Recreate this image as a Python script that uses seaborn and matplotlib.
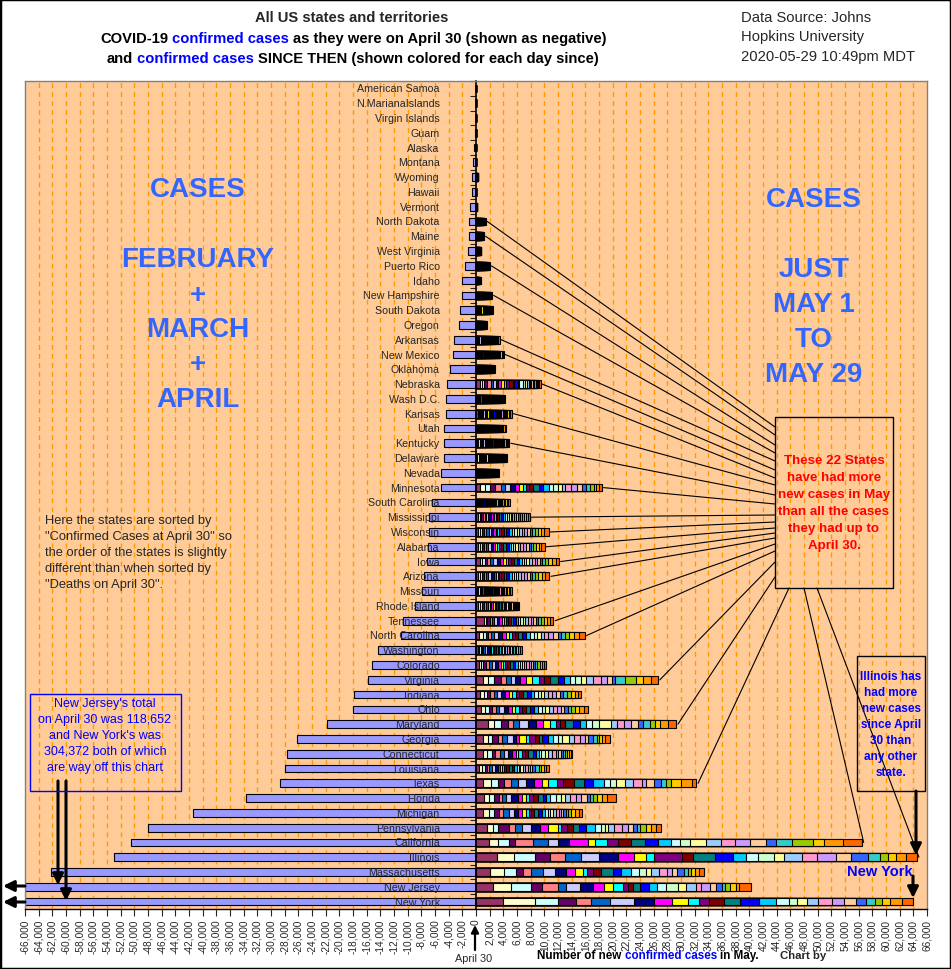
import numpy as np
import pandas as pd
import matplotlib
matplotlib.use("Agg")
import matplotlib.pyplot as plt
import seaborn as sns
from matplotlib.patches import Rectangle
from matplotlib.lines import Line2D

# ---- data -------------------------------------------------------------
states = ["American Samoa", "N.MarianaIslands", "Virgin Islands", "Guam", "Alaska",
          "Montana", "Wyoming", "Hawaii", "Vermont", "North Dakota", "Maine",
          "West Virginia", "Puerto Rico", "Idaho", "New Hampshire", "South Dakota",
          "Oregon", "Arkansas", "New Mexico", "Oklahoma", "Nebraska", "Wash D.C.",
          "Kansas", "Utah", "Kentucky", "Delaware", "Nevada", "Minnesota",
          "South Carolina", "Mississippi", "Wisconsin", "Alabama", "Iowa", "Arizona",
          "Missouri", "Rhode Island", "Tennessee", "North Carolina", "Washington",
          "Colorado", "Virginia", "Indiana", "Ohio", "Maryland", "Georgia",
          "Connecticut", "Louisiana", "Texas", "Florida", "Michigan", "Pennsylvania",
          "California", "Illinois", "Massachusetts", "New Jersey", "New York"]

# confirmed cases on April 30 (drawn as negative)
april30 = [0, 14, 66, 145, 355, 453, 559, 619, 866, 1067, 1095, 1125, 1575, 2015,
           2054, 2373, 2510, 3255, 3411, 3748, 4281, 4323, 4449, 4672, 4708, 4734,
           5053, 5136, 6489, 6815, 6854, 7068, 7145, 7648, 7835, 8962, 10735, 10923,
           14327, 15284, 15846, 17835, 18027, 21849, 26264, 27700, 28001, 28727,
           33690, 41379, 47971, 50442, 52918, 62205, 118652, 304372]

# new confirmed cases for each day May 1 .. May 29 (one row per state)
may_daily = [
    [0,0,0,0,0,0,0,0,0,0,0,0,0,0,0,0,0,0,0,0,0,0,0,0,0,0,0,0,0],
    [2,0,0,0,0,0,0,0,0,0,0,0,0,1,0,0,0,0,0,0,0,0,0,0,0,0,3,2,0],
    [0,0,0,0,0,0,0,0,0,0,0,0,0,0,0,0,0,0,0,0,0,0,0,0,0,0,0,3,0],
    [0,0,0,0,4,0,0,0,0,0,2,0,0,0,0,3,0,0,0,0,0,2,0,0,0,3,0,2,4],
    [4,3,3,1,0,2,1,4,4,2,0,0,2,1,4,1,3,2,4,2,3,4,3,3,2,1,1,2,2],
    [2,1,0,1,0,0,0,3,2,0,0,0,1,0,0,2,2,0,0,0,0,1,3,2,1,2,3,2,2],
    [7,4,7,12,5,6,12,10,9,11,9,15,10,13,12,16,10,5,7,14,13,12,7,8,11,15,12,16,14],
    [1,0,0,0,1,0,1,0,0,1,0,2,1,0,1,2,0,1,3,2,0,2,1,1,0,2,1,1,2],
    [4,1,3,2,5,2,3,5,3,4,2,1,3,4,8,6,4,1,6,3,3,5,2,4,3,7,5,4,3],
    [40,45,50,42,38,36,50,60,55,62,45,40,50,58,60,52,45,30,48,55,40,48,35,38,45,60,55,58,62],
    [30,35,40,22,30,25,35,40,50,33,28,35,40,45,50,35,30,40,45,33,50,60,45,35,40,55,42,48,50],
    [25,30,28,20,22,30,25,35,28,26,20,18,30,32,25,30,28,22,20,35,30,28,25,26,30,32,28,24,26],
    [60,50,45,70,80,65,75,90,40,50,120,85,70,60,55,40,50,110,95,80,60,45,30,40,70,85,90,95,100],
    [20,25,18,15,20,22,25,30,28,20,15,18,22,25,28,30,20,18,22,30,25,28,26,24,30,32,28,30,25],
    [80,90,70,60,75,85,95,100,90,70,60,80,85,95,100,85,70,65,80,90,80,85,70,65,75,90,85,80,75],
    [110,80,90,75,60,70,95,100,110,250,80,70,85,90,70,60,75,80,70,65,60,75,80,65,90,85,70,75,80],
    [45,50,55,60,40,48,52,60,58,55,42,50,55,60,62,58,45,40,55,60,58,62,48,52,55,60,65,62,58],
    [60,80,90,100,110,70,150,200,120,100,90,80,110,100,130,120,100,90,110,120,150,100,90,130,140,160,170,200,180],
    [150,100,120,130,140,120,180,170,150,130,100,110,140,150,160,170,130,120,130,140,160,150,140,110,120,160,170,150,140],
    [90,100,85,70,80,95,110,120,100,90,70,75,85,110,105,100,90,80,85,95,100,110,95,85,100,120,110,115,120],
    [650,300,280,320,650,330,380,360,320,450,370,450,540,230,450,230,580,320,270,230,180,220,220,220,180,140,180,180,220],
    [130,120,150,140,110,200,160,150,170,140,120,130,160,170,140,150,130,110,140,160,150,170,180,140,150,130,110,150,140],
    [250,150,200,180,160,130,220,200,180,170,150,160,200,190,180,170,150,140,160,180,200,190,160,150,170,190,200,210,250],
    [150,140,130,120,160,150,170,160,140,130,120,140,150,160,170,180,150,140,130,150,160,170,160,150,140,130,150,180,190],
    [200,150,300,140,130,160,180,200,170,150,140,130,160,180,200,150,140,130,160,180,170,150,140,130,160,250,180,170,140],
    [180,200,150,130,170,160,150,180,200,170,140,150,160,170,180,200,150,140,130,160,150,140,130,120,150,140,150,130,140],
    [100,120,110,90,100,130,120,110,100,130,110,100,120,130,140,120,110,100,90,120,130,140,110,100,120,130,140,110,120],
    [630,680,780,680,880,630,680,730,540,590,490,490,590,780,680,780,680,630,630,490,830,830,730,630,630,590,240,390,490],
    [150,140,160,130,120,200,180,170,160,150,140,130,160,180,170,150,140,200,160,180,170,190,160,180,200,190,210,230,250],
    [300,250,200,220,280,260,300,350,260,240,200,220,280,300,320,280,240,260,300,280,250,260,300,320,280,260,300,290,300],
    [350,300,250,280,300,350,400,330,300,280,250,310,350,380,400,420,380,350,330,360,390,420,400,380,350,400,450,550,600],
    [300,250,280,300,330,350,360,320,300,250,280,320,350,380,400,350,300,330,360,380,400,420,390,350,330,400,380,420,450],
    [550,400,350,380,420,450,480,520,450,400,350,380,420,400,380,350,330,380,400,420,380,350,360,400,420,450,600,520,450],
    [250,300,280,300,350,320,400,380,300,280,250,300,350,380,400,380,350,300,320,400,420,450,400,380,420,450,500,520,600],
    [150,120,300,160,180,200,170,150,140,130,160,180,200,170,160,150,140,170,190,200,210,180,160,150,200,220,240,230,250],
    [300,320,280,250,270,300,280,260,240,220,200,230,250,240,220,200,180,190,210,200,180,170,160,150,180,170,160,150,140],
    [1100,300,250,350,300,280,450,400,320,300,280,350,400,380,350,300,320,380,400,420,400,380,350,330,400,420,450,480,500],
    [400,600,450,350,400,500,550,600,500,450,400,450,500,550,600,650,550,500,450,550,600,700,650,550,500,600,700,750,900],
    [250,220,200,180,230,250,270,240,220,200,190,210,240,260,250,230,210,200,220,240,260,250,230,220,200,210,250,260,280],
    [400,350,300,380,420,450,500,420,380,350,300,320,380,400,420,350,300,280,320,350,380,350,300,280,300,320,340,300,320],
    [980,830,880,980,730,730,590,730,880,830,1070,780,830,1120,880,980,730,830,780,930,1220,880,680,440,1510,1610,980,1220,1020],
    [600,550,500,450,480,520,580,600,550,500,480,520,550,600,580,500,450,480,520,560,580,600,550,500,520,560,600,500,450],
    [700,600,550,500,520,560,600,620,580,550,500,520,560,600,580,550,500,520,560,600,580,550,520,500,540,560,600,620,650],
    [1710,980,980,980,730,980,1220,1220,980,980,880,680,730,1120,1120,830,880,980,1800,880,980,1070,980,730,980,730,730,1220,1220],
    [980,730,630,830,590,780,830,490,390,1070,390,880,590,490,830,730,730,630,980,830,880,630,540,630,630,340,340,540,680],
    [980,590,780,490,630,590,680,490,590,390,490,440,540,680,490,390,290,630,440,540,590,340,390,290,290,340,240,290,150],
    [500,400,350,300,380,420,450,350,300,380,250,300,400,420,380,350,300,280,320,400,380,350,300,420,480,400,350,380,350],
    [980,1220,980,880,1070,980,1220,1120,1220,880,1270,880,1710,1370,1320,1610,830,980,1220,1220,1370,590,1120,980,730,830,1370,1710,590],
    [1200,650,850,600,550,550,750,1000,600,550,500,550,750,650,500,650,800,800,550,700,900,750,800,550,400,600,700,650,1400],
    [1000,900,800,600,700,800,700,650,600,500,450,400,450,500,600,450,400,300,500,450,400,350,300,300,350,450,550,600,500],
    [1610,930,680,1610,930,980,1270,1320,1220,1420,490,880,830,930,1020,1270,930,490,540,830,1120,980,680,630,390,880,680,730,830],
    [1900,1320,1560,930,2590,2240,1460,1610,2730,1020,1760,1660,1900,2050,1950,1850,1320,1460,2340,2200,2050,2200,2340,1460,2340,3070,1610,2780,2780],
    [3030,2540,3030,2240,2200,2340,2590,2830,2340,1760,1170,4100,1610,3220,2540,2000,1760,2340,1460,2540,2200,2780,2290,2490,1760,1170,1070,1560,1610],
    [2000,2100,1710,1020,1170,1810,1710,1660,1320,1170,540,930,1170,1710,1220,1460,1120,1070,780,1120,1170,680,730,1120,540,490,490,630,730],
    [2440,2680,2930,1610,2340,1170,2100,1850,1560,1370,1420,780,730,1020,1370,1120,1320,1760,1170,1460,730,1270,930,880,490,680,830,440,1810],
    [3900,4680,3370,2640,2240,2780,3510,2930,2640,2390,1560,1460,2200,2340,2780,2540,1850,1170,1510,1610,2000,1810,1710,1420,1370,1070,1120,1760,1610],
]

days = [f"May {d}" for d in range(1, 30)]
day_colors = ["#993366", "#FFFFCC", "#CCFFFF", "#660066", "#FF8080", "#0066CC",
              "#CCCCFF", "#000080", "#FF00FF", "#FFFF00", "#00FFFF", "#800080",
              "#800000", "#008080", "#0000FF", "#00CCFF", "#CCFFFF", "#CCFFCC",
              "#FFFF99", "#99CCFF", "#FF99CC", "#CC99FF", "#FFCC99", "#3366FF",
              "#33CCCC", "#99CC00", "#FFCC00", "#FF9900", "#FF6600"]

# states whose May total beats the April 30 total, and where their line meets the note box (pixels)
box_states = ["North Dakota", "Maine", "Puerto Rico", "New Hampshire", "Arkansas",
              "New Mexico", "Nebraska", "Kansas", "Kentucky", "Minnesota",
              "Mississippi", "Wisconsin", "Alabama", "Iowa", "Arizona", "Tennessee",
              "North Carolina", "Virginia", "Maryland", "Texas", "California", "Illinois"]
box_hits = [(775, 428), (775, 436), (775, 446), (775, 454), (775, 462), (775, 471),
            (775, 479), (775, 486), (775, 496), (775, 505), (775, 516), (775, 523),
            (775, 529), (775, 534), (775, 539), (775, 545), (775, 552), (775, 563),
            (775, 578), (789, 589), (804, 589), (817, 589)]

bad = [s for s, r in zip(states, may_daily) if len(r) != 29]
assert not bad, bad

df = pd.DataFrame(may_daily, index=states, columns=days)
cum = df.cumsum(axis=1)
neg = -np.array(april30)

# ---- figure -----------------------------------------------------------
sns.set_style("white")
plt.rcParams["font.family"] = ["Liberation Sans", "DejaVu Sans"]

W, H = 951, 970
fig = plt.figure(figsize=(W / 100, H / 100), dpi=100)
fig.patch.set_facecolor("white")


def P(x, y):
    return (x / W, 1 - y / H)


ax = fig.add_axes([25 / W, 1 - 910 / H, 902 / W, 828 / H])
ax.set_facecolor("#FFCC99")

for gx in range(-64000, 66000, 2000):
    if gx != 0:
        ax.axvline(gx, color="#FF9900", lw=1.0, ls=(0, (3.5, 3)), zorder=0.5)

bar_kw = dict(orient="h", saturation=1, edgecolor="black", linewidth=0.8,
              width=0.52, errorbar=None, ax=ax)
sns.barplot(x=neg, y=states, color="#9999FF", **bar_kw)
for k in range(len(days) - 1, -1, -1):
    sns.barplot(x=cum[days[k]].values, y=states, color=day_colors[k], **bar_kw)

ax.set_xlim(-66000, 66000)
ax.set_ylim(len(states) - 0.5, -0.5)
ax.set_xlabel("")
ax.set_ylabel("")

ticks = np.arange(-66000, 66001, 2000)
ax.set_xticks(ticks)
ax.set_xticklabels([f"{t:,}" for t in ticks], rotation=90, fontsize=7.3)
ax.tick_params(axis="x", direction="out", length=5, width=0.8, pad=2, bottom=True)

ax.set_yticks(range(len(states)))
ax.tick_params(axis="y", which="major", length=0, labelleft=False)
ax.set_yticks(np.arange(-0.5, len(states), 1), minor=True)
ax.tick_params(axis="y", which="minor", length=4, width=0.8, direction="out", left=True)

ax.spines["left"].set_position(("data", 0))
ax.spines["left"].set_color("black")
ax.spines["left"].set_linewidth(1.2)
ax.spines["bottom"].set_color("black")
ax.spines["bottom"].set_linewidth(1.0)
for side in ["top", "right"]:
    ax.spines[side].set_color("#808080")
    ax.spines[side].set_linewidth(1.0)
ax.add_line(Line2D([0, 0], [0, 1], transform=ax.transAxes, color="#808080",
                   lw=1.0, clip_on=False))

for i, s in enumerate(states):
    ax.text(-5300, i, s, ha="right", va="center", fontsize=7.7, zorder=5)

# lines from each state's bar end to the note box
totals = cum[days[-1]]
for s, (hx, hy) in zip(box_states, box_hits):
    i = states.index(s)
    ax.annotate("", xy=(totals[s] + 250, i), xycoords="data",
                xytext=(hx, H - hy), textcoords="figure pixels",
                arrowprops=dict(arrowstyle="-", lw=0.8, color="black",
                                shrinkA=0, shrinkB=0), zorder=4)

# ---- boxes and arrows -------------------------------------------------
def box(x0, y0, x1, y1, color):
    r = Rectangle(P(x0, y1), (x1 - x0) / W, (y1 - y0) / H, transform=fig.transFigure,
                  fill=False, edgecolor=color, lw=1.0)
    fig.add_artist(r)


def arrow(x0, y0, x1, y1, lw=2.2, scale=16):
    ax.annotate("", xy=P(x1, y1), xycoords="figure fraction",
                xytext=P(x0, y0), textcoords="figure fraction",
                arrowprops=dict(arrowstyle="-|>", lw=lw, color="black",
                                mutation_scale=scale, shrinkA=0, shrinkB=0))


box(775, 418, 893, 589, "black")
box(857, 657, 925, 792, "black")
box(30, 695, 181, 792, "#0000FF")

arrow(58, 782, 58, 886)
arrow(66, 782, 66, 902)
arrow(25, 887, 3, 887)
arrow(25, 903, 3, 903)
arrow(916, 792, 916, 856)
arrow(913, 877, 913, 899)
arrow(475, 951, 475, 926, lw=1.6, scale=11)

# ---- text -------------------------------------------------------------
def rich(x, y, pieces, size, weight="bold"):
    t = fig.text(*P(x, y), pieces[0][0], color=pieces[0][1], fontsize=size,
                 fontweight=weight, ha="left", va="center")
    for s, c in pieces[1:]:
        t = ax.annotate(s, xy=(1, 0.5), xycoords=t, xytext=(0.28 * size, 0),
                        textcoords="offset points", color=c, fontsize=size,
                        fontweight=weight, ha="left", va="center")


BLUE = "#0000FF"
fig.text(*P(352, 18), "All US states and territories", ha="center", va="center",
         fontsize=10.6, fontweight="bold")
rich(100, 39, [("COVID-19", "black"), ("confirmed cases", BLUE),
               ("as they were on April 30 (shown as negative)", "black")], 10.6)
rich(107, 59, [("and", "black"), ("confirmed cases", BLUE),
               ("SINCE THEN (shown colored for each day since)", "black")], 10.6)

for j, line in enumerate(["Data Source: Johns", "Hopkins University",
                          "2020-05-29 10:49pm MDT"]):
    fig.text(*P(741, 18 + 19.5 * j), line, ha="left", va="center", fontsize=10.6)

BIG = "#3366FF"
for s, y in [("CASES", 190), ("FEBRUARY", 260), ("+", 296), ("MARCH", 330),
             ("+", 365), ("APRIL", 400)]:
    fig.text(*P(198, y), s, ha="center", va="center", fontsize=20,
             fontweight="bold", color=BIG)
for s, y in [("CASES", 200), ("JUST", 270), ("MAY 1", 305), ("TO", 340),
             ("MAY 29", 375)]:
    fig.text(*P(814, y), s, ha="center", va="center", fontsize=20,
             fontweight="bold", color=BIG)

for j, line in enumerate(["Here the states are sorted by",
                          "\"Confirmed Cases at April 30\" so",
                          "the order of the states is slightly",
                          "different than when sorted by",
                          "\"Deaths on April 30\"."]):
    fig.text(*P(45, 521 + 16 * j), line, ha="left", va="center", fontsize=9.3)

for j, line in enumerate(["These 22 States", "have had more", "new cases in May",
                          "than all the cases", "they had up to", "April 30."]):
    fig.text(*P(834, 461 + 17 * j), line, ha="center", va="center", fontsize=9.6,
             fontweight="bold", color="#FF0000")

for j, line in enumerate(["New Jersey's total", "on April 30 was 118,652",
                          "and New York's was", "304,372 both of which",
                          "are way off this chart"]):
    fig.text(*P(105, 704 + 16 * j), line, ha="center", va="center", fontsize=9,
             color=BLUE)

for j, line in enumerate(["Illinois has", "had more", "new cases", "since April",
                          "30 than", "any other", "state."]):
    fig.text(*P(891, 677 + 16 * j), line, ha="center", va="center", fontsize=8.5,
             fontweight="bold", color=BLUE)

fig.text(*P(880, 872), "New York", ha="center", va="center", fontsize=10.5,
         fontweight="bold", color=BLUE)

fig.text(*P(474, 959), "April 30", ha="center", va="center", fontsize=7.8)
rich(537, 956, [("Number of new", "black"), ("confirmed cases", BLUE),
                ("in May.", "black")], 8.4)
fig.text(*P(780, 956), "Chart by", ha="left", va="center", fontsize=8.2,
         fontweight="bold")

fig.add_artist(Rectangle((0, 0), 1, 1, transform=fig.transFigure, fill=False,
                         edgecolor="black", lw=2.5))

fig.savefig("out.png", dpi=100)
